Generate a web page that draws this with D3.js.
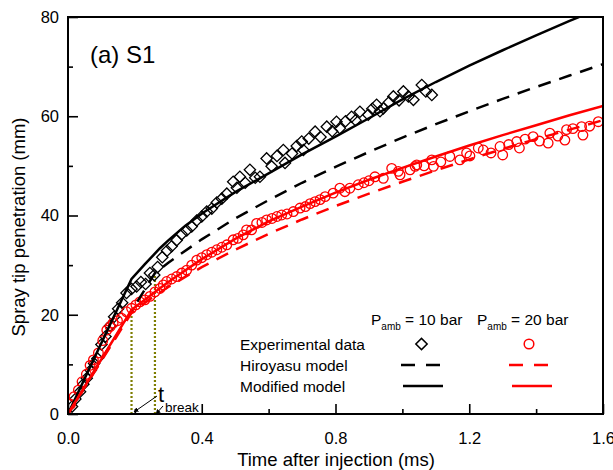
<!DOCTYPE html>
<html>
<head>
<meta charset="utf-8">
<script src="https://cdn.jsdelivr.net/npm/d3@7"></script>
<style>
  body { margin: 0; background: #fff; }
  svg text { font-family: "Liberation Sans", Arial, sans-serif; fill: #000; }
</style>
</head>
<body>
<svg id="chart" width="613" height="470"></svg>
<script>
// Experimental data, P_amb = 10 bar  [time (ms), penetration (mm)]
const exp10 = [
  [0.012,1.5],[0.022,3.0],[0.036,4.5],[0.046,6.0],[0.056,7.2],[0.068,8.8],[0.078,10.2],[0.088,11.2],
  [0.100,14.0],[0.112,15.6],[0.126,17.8],[0.138,19.6],[0.150,21.2],[0.162,22.4],[0.175,24.4],[0.190,25.2],
  [0.205,25.7],[0.218,26.6],[0.232,26.2],[0.245,28.4],[0.258,28.0],[0.268,29.6],[0.282,31.6],[0.296,32.9],
  [0.310,33.8],[0.325,35.0],[0.340,36.2],[0.355,37.0],[0.370,37.8],[0.385,39.0],[0.400,39.8],[0.415,40.8],
  [0.430,41.4],[0.445,42.6],[0.460,43.4],[0.475,44.4],[0.494,46.8],[0.505,45.6],[0.514,47.8],[0.530,46.6],
  [0.544,49.2],[0.560,47.6],[0.574,47.8],[0.594,51.5],[0.609,49.9],[0.625,52.0],[0.644,53.2],[0.649,50.6],
  [0.670,52.5],[0.684,54.0],[0.699,54.9],[0.704,53.2],[0.720,55.5],[0.739,56.9],[0.755,55.8],[0.774,57.9],
  [0.790,57.0],[0.803,58.9],[0.813,57.6],[0.830,59.0],[0.848,59.9],[0.860,59.2],[0.873,60.9],[0.898,60.3],
  [0.910,61.5],[0.923,62.3],[0.933,61.0],[0.943,61.6],[0.960,62.8],[0.973,64.0],[0.990,63.2],[1.003,65.0],
  [1.018,64.0],[1.033,63.3],[1.058,66.3],[1.070,65.0],[1.088,64.3]
];

// Experimental data, P_amb = 20 bar
const exp20 = [
  [0.008,2.0],[0.018,3.5],[0.031,4.8],[0.042,6.5],[0.055,8.0],[0.066,9.8],[0.076,10.9],[0.091,12.3],
  [0.104,14.8],[0.116,16.9],[0.126,17.6],[0.135,18.3],[0.148,18.8],[0.160,19.3],[0.175,20.6],[0.190,21.3],
  [0.203,22.0],[0.215,22.6],[0.230,23.0],[0.245,23.7],[0.260,24.6],[0.275,25.3],[0.285,26.0],[0.295,26.7],
  [0.310,27.2],[0.325,27.7],[0.340,28.4],[0.355,29.0],[0.370,30.0],[0.385,31.0],[0.400,31.5],[0.415,32.1],
  [0.430,32.6],[0.445,33.1],[0.460,33.6],[0.475,34.1],[0.494,35.1],[0.508,35.4],[0.524,36.1],[0.534,37.1],
  [0.549,37.1],[0.564,38.4],[0.580,38.6],[0.594,39.1],[0.610,39.4],[0.625,39.8],[0.639,40.1],[0.655,40.3],
  [0.674,40.8],[0.694,41.5],[0.710,41.8],[0.724,42.4],[0.739,42.8],[0.754,43.2],[0.769,43.8],[0.793,44.5],
  [0.813,45.5],[0.828,44.8],[0.843,45.5],[0.868,46.2],[0.885,46.6],[0.900,47.0],[0.918,47.8],[0.943,47.5],
  [0.968,49.5],[0.988,48.9],[0.993,48.2],[1.023,49.2],[1.038,49.9],[1.043,50.2],[1.065,50.0],[1.088,51.2],
  [1.093,49.9],[1.115,50.8],[1.142,51.9],[1.172,51.2],[1.192,52.6],[1.202,52.0],[1.227,53.6],[1.242,53.2],
  [1.265,52.6],[1.292,53.9],[1.300,52.2],[1.318,54.3],[1.342,54.9],[1.350,53.6],[1.367,55.4],[1.391,55.9],
  [1.410,55.0],[1.436,54.6],[1.441,56.6],[1.465,56.0],[1.486,55.2],[1.491,57.3],[1.510,57.5],[1.536,57.9],
  [1.540,56.2],[1.560,58.0],[1.586,58.9]
];

// model curves
const hiro10T = [0, 0.26, 0.3, 0.4, 0.5, 0.6, 0.7, 0.8, 0.9, 1.0, 1.1, 1.2, 1.3, 1.4, 1.5, 1.6];
const hiro10S = [0, 28.4, 30.5, 35.2, 39.4, 43.1, 46.6, 49.8, 52.8, 55.7, 58.4, 61.0, 63.5, 65.9, 68.2, 70.5];
const mod10T = [0, 0.19, 0.23, 0.275, 0.3, 0.35, 0.405, 0.5, 0.6, 0.7, 0.8, 0.9, 1.0, 1.1, 1.2, 1.3, 1.4, 1.5, 1.6];
const mod10S = [0, 27.2, 30.2, 33.4, 35.0, 37.9, 40.6, 44.7, 48.5, 52.3, 55.9, 59.6, 63.4, 66.9, 70.2, 73.3, 76.3, 79.2, 82.0];
const hiro20T = [0, 0.19, 0.25, 0.3, 0.4, 0.5, 0.6, 0.7, 0.8, 0.9, 1.0, 1.1, 1.2, 1.3, 1.4, 1.5, 1.6];
const hiro20S = [0, 20.4, 23.4, 25.6, 29.6, 33.1, 36.3, 39.2, 41.9, 44.4, 46.8, 49.1, 51.3, 53.4, 55.4, 57.3, 59.2];
const mod20T = [0, 0.19, 0.26, 0.3, 0.4, 0.5, 0.6, 0.7, 0.8, 0.9, 1.0, 1.1, 1.2, 1.3, 1.4, 1.5, 1.6];
const mod20S = [0, 21.0, 24.6, 26.6, 31.2, 35.3, 38.8, 41.8, 44.6, 47.2, 49.6, 51.9, 54.1, 56.2, 58.2, 60.2, 62.1];

// break-up time markers [time, height]
const tBreak = [[0.19, 20.4], [0.26, 28.4]];

const xMajor = [0, 0.4, 0.8, 1.2, 1.6];
const xMinor = [0.2, 0.6, 1.0, 1.4];
const yMajor = [0, 20, 40, 60, 80];
const yMinor = [10, 30, 50, 70];

const svg = d3.select('#chart');
const x = d3.scaleLinear().domain([0, 1.6]).range([68, 603]);
const y = d3.scaleLinear().domain([0, 80]).range([414, 17]);

const zip = (t, s) => t.map((d, i) => [d, s[i]]);
const line = d3.line().x(d => x(d[0])).y(d => y(d[1]));

svg.append('clipPath').attr('id', 'clip')
  .append('rect').attr('x', 68).attr('y', 17).attr('width', 535).attr('height', 397);

const plot = svg.append('g').attr('clip-path', 'url(#clip)');

// break time dotted lines
plot.selectAll('.tb').data(tBreak).enter().append('line')
  .attr('x1', d => x(d[0])).attr('x2', d => x(d[0]))
  .attr('y1', y(0)).attr('y2', d => y(d[1]))
  .attr('stroke', '#7d7d00').attr('stroke-width', 2.2)
  .attr('stroke-dasharray', '2,2');

// experimental points
const diamond = d3.symbol().type(d3.symbolSquare).size(64);
plot.selectAll('.d10').data(exp10).enter().append('path')
  .attr('d', diamond)
  .attr('transform', d => `translate(${x(d[0])},${y(d[1])}) rotate(45)`)
  .attr('fill', 'none').attr('stroke', '#000').attr('stroke-width', 1.3);

plot.selectAll('.c20').data(exp20).enter().append('circle')
  .attr('cx', d => x(d[0])).attr('cy', d => y(d[1])).attr('r', 4.8)
  .attr('fill', 'none').attr('stroke', '#ff0000').attr('stroke-width', 1.3);

// model lines
const models = [
  { pts: zip(hiro10T, hiro10S), color: '#000', dash: '13,9' },
  { pts: zip(mod10T, mod10S), color: '#000', dash: null },
  { pts: zip(hiro20T, hiro20S), color: '#ff0000', dash: '13,9' },
  { pts: zip(mod20T, mod20S), color: '#ff0000', dash: null }
];
models.forEach(m => {
  plot.append('path').datum(m.pts)
    .attr('d', line)
    .attr('fill', 'none')
    .attr('stroke', m.color)
    .attr('stroke-width', 2.5)
    .attr('stroke-dasharray', m.dash);
});

// axes (ticks inside)
svg.append('g').attr('transform', `translate(0,${y(0)})`)
  .call(d3.axisBottom(x).tickValues(xMajor).tickFormat(d3.format('.1f')).tickSizeInner(-10).tickSizeOuter(0).tickPadding(18));
svg.append('g').attr('transform', `translate(0,${y(0)})`)
  .call(d3.axisBottom(x).tickValues(xMinor).tickFormat('').tickSizeInner(-5).tickSizeOuter(0));
svg.append('g').attr('transform', `translate(${x(0)},0)`)
  .call(d3.axisLeft(y).tickValues(yMajor).tickSizeInner(-10).tickSizeOuter(0).tickPadding(9));
svg.append('g').attr('transform', `translate(${x(0)},0)`)
  .call(d3.axisLeft(y).tickValues(yMinor).tickFormat('').tickSizeInner(-5).tickSizeOuter(0));

svg.selectAll('.domain').remove();
svg.selectAll('.tick line').attr('stroke', '#000').attr('stroke-width', 1.6);
svg.selectAll('.tick text').attr('font-size', 16.5).attr('font-family', '"Liberation Sans", Arial, sans-serif');

// frame
svg.append('rect').attr('x', 68).attr('y', 17).attr('width', 535).attr('height', 397)
  .attr('fill', 'none').attr('stroke', '#000').attr('stroke-width', 2);

// axis titles
svg.append('text').attr('x', 336).attr('y', 466).attr('text-anchor', 'middle')
  .attr('font-size', 18.5).text('Time after injection (ms)');
svg.append('text').attr('transform', 'translate(25,227) rotate(-90)').attr('text-anchor', 'middle')
  .attr('font-size', 18.5).text('Spray tip penetration (mm)');

// panel label
svg.append('text').attr('x', 90).attr('y', 63).attr('font-size', 24).text('(a) S1');

// t_break annotation
svg.append('defs').append('marker').attr('id', 'arr')
  .attr('viewBox', '0 0 10 10').attr('refX', 9).attr('refY', 5)
  .attr('markerWidth', 5).attr('markerHeight', 5).attr('orient', 'auto')
  .append('path').attr('d', 'M0,0L10,5L0,10z').attr('fill', '#000');
svg.append('line').attr('x1', 157).attr('y1', 396).attr('x2', 134).attr('y2', 412)
  .attr('stroke', '#000').attr('stroke-width', 1).attr('marker-end', 'url(#arr)');
svg.append('line').attr('x1', 163).attr('y1', 406).attr('x2', 156).attr('y2', 414)
  .attr('stroke', '#000').attr('stroke-width', 1).attr('marker-end', 'url(#arr)');
svg.append('text').attr('x', 158).attr('y', 402).attr('font-size', 22).text('t');
svg.append('text').attr('x', 165).attr('y', 412).attr('font-size', 13.5).text('break');

// legend
const lg = svg.append('g').attr('font-size', 15.5);
[[371, '10'], [477, '20']].forEach(([lx, p]) => {
  const t = lg.append('text').attr('x', lx).attr('y', 325);
  t.append('tspan').text('P');
  t.append('tspan').attr('dy', 5).attr('font-size', 10).text('amb');
  t.append('tspan').attr('dy', -5).text(` = ${p} bar`);
});
const rows = ['Experimental data', 'Hiroyasu model', 'Modified model'];
lg.selectAll('.row').data(rows).enter().append('text')
  .attr('x', 240).attr('y', (d, i) => 350 + i * 21).text(d => d);

lg.append('path').attr('d', diamond)
  .attr('transform', 'translate(421.5,344) rotate(45)')
  .attr('fill', 'none').attr('stroke', '#000').attr('stroke-width', 1.5);
lg.append('circle').attr('cx', 529).attr('cy', 344).attr('r', 4.8)
  .attr('fill', 'none').attr('stroke', '#ff0000').attr('stroke-width', 1.5);
[[401, '#000'], [509, '#ff0000']].forEach(([lx, c]) => {
  lg.append('line').attr('x1', lx).attr('x2', lx + 40).attr('y1', 365).attr('y2', 365)
    .attr('stroke', c).attr('stroke-width', 2.5).attr('stroke-dasharray', '14,11');
});
[[403, '#000'], [512, '#ff0000']].forEach(([lx, c]) => {
  lg.append('line').attr('x1', lx).attr('x2', lx + 40).attr('y1', 386).attr('y2', 386)
    .attr('stroke', c).attr('stroke-width', 2.5);
});
</script>
</body>
</html>
